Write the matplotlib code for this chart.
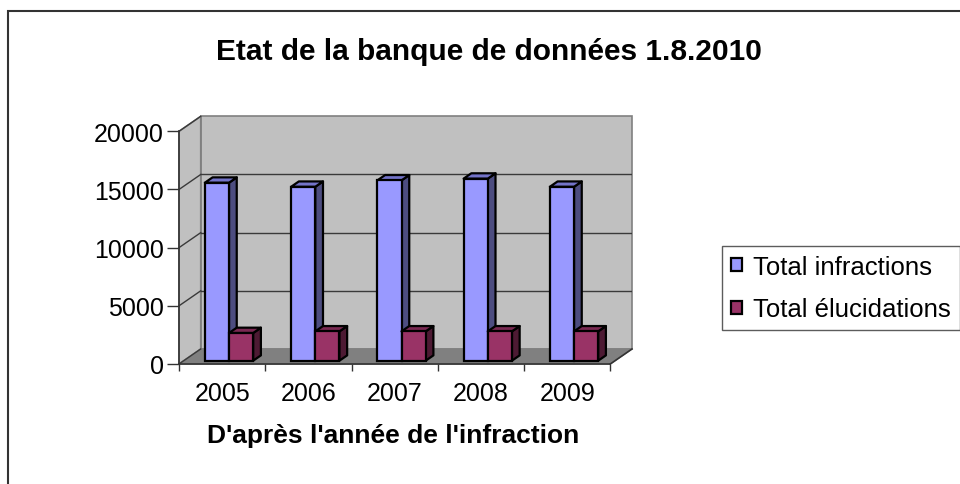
import numpy as np
import matplotlib.pyplot as plt
from matplotlib.patches import Polygon, Rectangle

plt.rcParams['font.family'] = ['Liberation Sans', 'DejaVu Sans']

years = ['2005', '2006', '2007', '2008', '2009']
infractions = [15300, 14950, 15500, 15650, 14950]
elucidations = [2380, 2520, 2520, 2520, 2520]
levels = [0, 5000, 10000, 15000, 20000]
ymax = 20000

# 3D look: depth offset of the walls in data units
dx = 0.252
dy = 1291
fr0 = 0.22      # bar front depth (fraction of wall depth)
fr_d = 0.355    # bar depth (fraction)
ddx, ddy = fr_d * dx, fr_d * dy
b0 = fr0 * dy
w = 0.28

fig = plt.figure(figsize=(9.6, 4.85), dpi=100)
W, H = 960, 485
ax = fig.add_axes([179 / W, (H - 365) / H, 453 / W, (365 - 117.3) / H])
n = len(years)
ax.set_xlim(0, n + dx)
ax.set_ylim(0, ymax + dy)
for s in ax.spines.values():
    s.set_visible(False)
ax.patch.set_visible(False)

# walls and floor
ax.add_patch(Polygon([(dx, dy), (n + dx, dy), (n + dx, ymax + dy), (dx, ymax + dy)],
                     closed=True, fc='#C0C0C0', ec='#808080', lw=1.2, zorder=1, clip_on=False))
ax.add_patch(Polygon([(0, 0), (dx, dy), (dx, ymax + dy), (0, ymax)],
                     closed=True, fc='#C0C0C0', ec='#808080', lw=1.2, zorder=1, clip_on=False))
ax.add_patch(Polygon([(0, 0), (n, 0), (n + dx, dy), (dx, dy)],
                     closed=True, fc='#808080', ec='#808080', lw=1, zorder=1, clip_on=False))

for v in levels[1:-1]:
    ax.plot([dx, n + dx], [v + dy, v + dy], color='#3a3a3a', lw=1, zorder=2)
for v in levels:
    ax.plot([0, dx], [v, v + dy], color='#3a3a3a', lw=1, zorder=2, clip_on=False)

# front axis lines
ax.plot([0, 0], [0, ymax], color='#333333', lw=1.2, zorder=3, clip_on=False)
ax.plot([0, n], [0, 0], color='#333333', lw=1.2, zorder=3, clip_on=False)
ax.plot([n, n + dx], [0, dy], color='#333333', lw=1.2, zorder=3, clip_on=False)


def bar3d(x0, val, front, side, top, z):
    cont = ax.bar(x0, val, width=w, bottom=b0, align='edge', color=front,
                  edgecolor='black', lw=1.6, zorder=z)
    t = b0 + val
    ax.add_patch(Polygon([(x0 + w, b0), (x0 + w + ddx, b0 + ddy), (x0 + w + ddx, t + ddy), (x0 + w, t)],
                         closed=True, fc=side, ec='black', lw=1.6, zorder=z - 0.5, joinstyle='round'))
    ax.add_patch(Polygon([(x0, t), (x0 + w, t), (x0 + w + ddx, t + ddy), (x0 + ddx, t + ddy)],
                         closed=True, fc=top, ec='black', lw=1.6, zorder=z - 0.5, joinstyle='round'))
    return cont


z = 5
for i in range(n):
    hb = bar3d(i + 0.30, infractions[i], '#9999FF', '#4D4D80', '#7373C8', z)
    hr = bar3d(i + 0.58, elucidations[i], '#993366', '#4D1A33', '#7A2952', z + 2)
    z += 4

ax.set_yticks(levels)
ax.set_yticklabels([str(v) for v in levels])
ax.tick_params(axis='y', length=8.5, width=1, color='#333333', pad=2.5, labelsize=18)
ax.set_xticks(np.arange(n) + 0.5)
ax.set_xticklabels(years)
ax.set_xticks(np.arange(n + 1), minor=True)
ax.tick_params(axis='x', which='major', length=0, pad=12.5, labelsize=18)
ax.tick_params(axis='x', which='minor', length=5, width=1, color='#333333')

fig.text(489 / W, 1 - 60 / H, 'Etat de la banque de données 1.8.2010',
         ha='center', va='baseline', fontsize=21.5, fontweight='bold')
fig.text(393 / W, 1 - 442.7 / H, "D'après l'année de l'infraction",
         ha='center', va='baseline', fontsize=19, fontweight='bold')

leg = ax.legend([hb, hr], ['Total infractions', 'Total élucidations'],
                loc='upper left', bbox_to_anchor=(722 / W, 1 - 247 / H),
                bbox_transform=fig.transFigure, frameon=True, fancybox=False,
                fontsize=18.5, handlelength=0.42, handleheight=0.42,
                handletextpad=0.45, labelspacing=0.72, borderpad=0.35,
                borderaxespad=0)
leg.get_frame().set_edgecolor('#333333')
leg.get_frame().set_linewidth(1)

# outer chart frame
fig.patches.append(Rectangle((8 / W, -0.1), 1.2, 1.1 - 12 / H, transform=fig.transFigure,
                             fill=False, ec='#333333', lw=1.5))

fig.savefig('out.png', dpi=100)
